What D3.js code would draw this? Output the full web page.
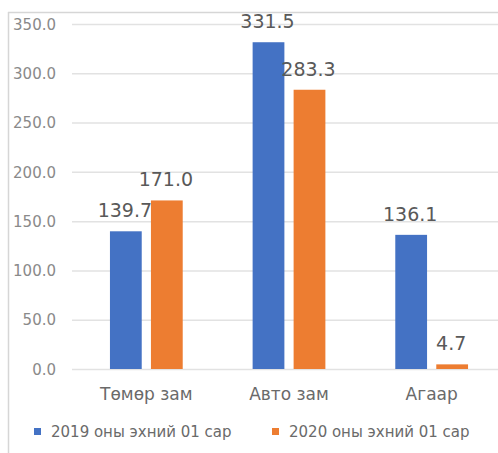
<!DOCTYPE html>
<html><head><meta charset="utf-8">
<script src="https://cdn.jsdelivr.net/npm/d3@7/dist/d3.min.js"></script>
<style>body{margin:0;background:#fff}svg{display:block}</style>
</head><body>
<script>
const categories = ["Төмөр зам", "Авто зам", "Агаар"];
const seriesNames = ["2019 оны эхний 01 сар", "2020 оны эхний 01 сар"];
const values2019 = [139.7, 331.5, 136.1];
const values2020 = [171.0, 283.3, 4.7];
const tickValues = [0, 50, 100, 150, 200, 250, 300, 350];
const colors = ["#4472C4", "#ED7D31"];

const W = 498, H = 453;
const svg = d3.select("body").append("svg").attr("width", W).attr("height", H);
const font = "DejaVu Sans, sans-serif";

// frame lines
svg.append("line").attr("x1", 8).attr("x2", W).attr("y1", 12.5).attr("y2", 12.5).attr("stroke", "#d6d6d6").attr("stroke-width", 1.5);
svg.append("line").attr("x1", 8.5).attr("x2", 8.5).attr("y1", 12).attr("y2", H).attr("stroke", "#d6d6d6").attr("stroke-width", 1.5);

const y = d3.scaleLinear().domain([0, 350]).range([369, 24]);
const x0 = d3.scaleBand().domain(categories).range([75, 503]).paddingInner(0.49).paddingOuter(0.245);
const x1 = d3.scaleBand().domain(seriesNames).range([0, x0.bandwidth()]).paddingInner(0.225);

// grid
const yAxis = d3.axisLeft(y).tickValues(tickValues).tickFormat(d3.format(".1f")).tickSize(0).tickPadding(0);
const gy = svg.append("g").attr("transform", "translate(56,0)").call(yAxis);
gy.select(".domain").remove();
gy.selectAll("text").attr("font-family", font).attr("font-size", 15).attr("fill", "#8a8a8a").attr("dy", "0.35em");

svg.append("g").selectAll("line").data(tickValues).join("line")
  .attr("x1", 72).attr("x2", W).attr("y1", d => y(d) + 0.5).attr("y2", d => y(d) + 0.5)
  .attr("stroke", "#e2e2e2").attr("stroke-width", 1.5);

const data = categories.map((c, i) => ({cat: c, vals: [values2019[i], values2020[i]]}));

const groups = svg.append("g").selectAll("g").data(data).join("g")
  .attr("transform", d => `translate(${x0(d.cat)},0)`);

groups.selectAll("rect").data(d => d.vals.map((v, j) => ({v, s: seriesNames[j], j}))).join("rect")
  .attr("x", d => x1(d.s)).attr("width", x1.bandwidth())
  .attr("y", d => y(d.v)).attr("height", d => y(0) - y(d.v))
  .attr("fill", d => colors[d.j]);

groups.selectAll("text.val").data(d => d.vals.map((v, j) => ({v, s: seriesNames[j], j}))).join("text")
  .attr("class", "val")
  .attr("x", d => x1(d.s) + x1.bandwidth() / 2 - 1)
  .attr("y", d => y(d.v) - 14)
  .attr("text-anchor", "middle").attr("font-family", font).attr("font-size", 19).attr("fill", "#595959")
  .text(d => d3.format(".1f")(d.v));

// x axis labels
const xAxis = d3.axisBottom(x0).tickSize(0).tickPadding(0);
const gx = svg.append("g").attr("transform", "translate(0,400)").call(xAxis);
gx.select(".domain").remove();
gx.selectAll("text").attr("font-family", font).attr("font-size", 17).attr("fill", "#6a6a6a").attr("dy", 0);

// legend
const legendX = [34, 272];
const lg = svg.append("g").selectAll("g").data(seriesNames).join("g")
  .attr("transform", (d, i) => `translate(${legendX[i]},0)`);
lg.append("rect").attr("x", 0).attr("y", 428).attr("width", 7).attr("height", 7).attr("fill", (d, i) => colors[i]);
lg.append("text").attr("x", 17).attr("y", 437).attr("font-family", font).attr("font-size", 15).attr("fill", "#6a6a6a").text(d => d);
</script>
</body></html>
